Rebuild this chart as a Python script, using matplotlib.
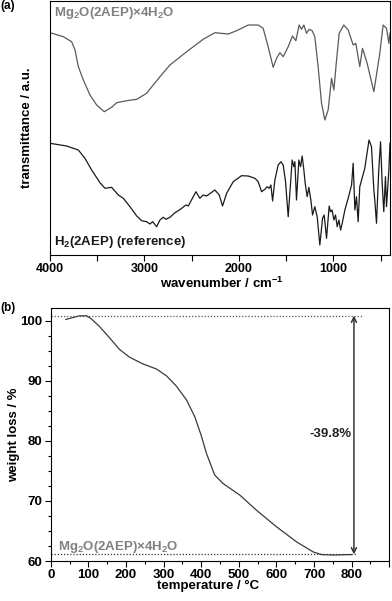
import numpy as np
import matplotlib
matplotlib.use('Agg')
import matplotlib.pyplot as plt
from matplotlib.ticker import MultipleLocator

plt.rcParams['font.family'] = ['Liberation Sans', 'DejaVu Sans']
plt.rcParams['font.weight'] = 'bold'
plt.rcParams['axes.labelweight'] = 'bold'
plt.rcParams['font.size'] = 9
plt.rcParams['mathtext.fontset'] = 'custom'
plt.rcParams['mathtext.rm'] = 'Liberation Sans:bold'
plt.rcParams['mathtext.it'] = 'Liberation Sans:bold'
plt.rcParams['mathtext.bf'] = 'Liberation Sans:bold'

# --- (a) IR spectra (arbitrary units) ---
ir_mg_wn = [4000, 3859, 3771, 3735, 3700, 3647, 3577, 3506, 3425, 3347, 3294, 3188,
            3082, 2977, 2907, 2836, 2730, 2553, 2378, 2254, 2113, 2024, 1901, 1796,
            1743, 1690, 1637, 1601, 1566, 1531, 1478, 1432, 1397, 1362, 1337, 1312,
            1284, 1256, 1224, 1196, 1161, 1125, 1090, 1055, 1019, 994, 966, 938, 889,
            843, 790, 762, 720, 691, 642, 571, 508, 473, 437, 412, 400]
ir_mg_t = [222.3, 218.3, 213.3, 205.0, 188.3, 175.0, 160.0, 150.0, 143.3, 147.7, 152.3,
           154.3, 155.7, 161.7, 170.0, 178.3, 190.0, 203.3, 215.7, 222.3, 221.0, 224.3,
           230.0, 230.0, 226.7, 208.3, 187.7, 196.7, 202.3, 198.3, 208.3, 219.0, 214.3,
           230.0, 225.7, 230.0, 221.7, 225.7, 224.3, 218.3, 188.3, 151.7, 135.0, 145.0,
           176.7, 165.0, 195.0, 221.7, 230.0, 225.0, 210.0, 211.7, 188.3, 206.7, 191.7,
           163.3, 201.7, 230.0, 226.7, 211.7, 222.0]

ir_ref_wn = [4000, 3824, 3700, 3630, 3559, 3471, 3418, 3347, 3277, 3224, 3153, 3082,
             3030, 2977, 2942, 2913, 2871, 2836, 2801, 2772, 2730, 2677, 2642, 2606,
             2561, 2536, 2455, 2413, 2378, 2342, 2254, 2208, 2173, 2130, 2060, 1972,
             1901, 1830, 1796, 1760, 1725, 1700, 1679, 1661, 1643, 1619, 1584, 1555,
             1531, 1506, 1478, 1453, 1436, 1418, 1407, 1390, 1365, 1347, 1330, 1312,
             1298, 1277, 1259, 1238, 1220, 1196, 1171, 1143, 1114, 1097, 1072, 1044,
             1030, 1013, 994, 977, 959, 941, 923, 906, 878, 843, 807, 790, 772, 755,
             737, 720, 667, 622, 596, 571, 561, 543, 519, 500, 483, 466, 448, 437,
             412, 400]
ir_ref_t = [111.7, 109.0, 105.0, 96.7, 85.0, 72.3, 66.7, 67.7, 60.0, 56.7, 48.3, 39.0,
            34.3, 33.3, 31.0, 33.3, 28.3, 35.0, 37.7, 35.7, 37.7, 42.3, 44.3, 46.7,
            50.0, 49.0, 63.3, 56.7, 60.0, 59.0, 65.0, 60.0, 49.0, 61.7, 73.3, 79.3,
            79.0, 76.7, 73.3, 63.3, 65.7, 68.3, 66.7, 70.0, 54.0, 75.0, 90.0, 93.3,
            90.0, 73.3, 38.3, 71.7, 95.0, 88.3, 93.3, 55.0, 95.0, 88.3, 99.0, 85.0,
            71.7, 58.3, 67.7, 55.0, 40.0, 48.3, 38.3, 10.0, 36.7, 40.0, 16.7, 49.0,
            43.3, 45.0, 35.0, 40.0, 28.3, 35.0, 25.0, 31.7, 45.0, 56.7, 70.0, 91.7,
            45.0, 58.3, 33.3, 68.3, 86.7, 115.0, 108.3, 65.0, 55.0, 31.7, 85.0, 113.3,
            71.7, 43.3, 78.3, 48.3, 85.0, 111.7]

# --- (b) TGA ---
tga_temp = [40, 77, 95, 108, 130, 157, 183, 210, 245, 281, 308, 334, 361, 383, 400,
            414, 436, 458, 503, 547, 600, 653, 698, 720, 751, 800]
tga_weight = [100.2, 100.8, 100.8, 100.3, 99.0, 97.1, 95.2, 93.9, 92.8, 91.95, 90.8,
              89.1, 86.8, 84.0, 80.9, 77.9, 74.3, 72.9, 70.95, 68.45, 65.7, 63.2, 61.5,
              61.07, 61.0, 61.07]
plateau_top = 100.83
plateau_bottom = 61.1
arrow_temp = 806
loss_label = '-39.8%'

compound = r'Mg$_{2}$O(2AEP)$\times$4H$_{2}$O'

fig = plt.figure(figsize=(3.92, 6.01), dpi=100)

# ---------- (a) ----------
ax1 = fig.add_axes([50 / 392, 1 - 255 / 601, 340 / 392, 254 / 601])
ax1.plot(ir_mg_wn, ir_mg_t, color='#5a5a5a', lw=0.9)
ax1.plot(ir_ref_wn, ir_ref_t, color='#1a1a1a', lw=0.9)
ax1.set_xlim(4000, 400)
ax1.set_ylim(0, 254)
ax1.xaxis.set_major_locator(MultipleLocator(1000))
ax1.xaxis.set_minor_locator(MultipleLocator(500))
ax1.tick_params(axis='x', which='both', direction='out', length=4, width=0.8,
                labelsize=9, pad=2)
ax1.set_yticks([])
ax1.set_xlabel(r'wavenumber / cm$^{-1}$', fontsize=9.5)
ax1.xaxis.set_label_coords(0.504, -0.082)
ax1.set_ylabel('transmittance / a.u.', fontsize=9.5)
ax1.yaxis.set_label_coords(-0.05, 0.5)
ax1.text(0.012, 0.985, compound, transform=ax1.transAxes, color='#808080',
         fontsize=9.5, ha='left', va='top')
ax1.text(0.012, 0.02, 'H$_{2}$(2AEP) (reference)', transform=ax1.transAxes,
         color='#1a1a1a', fontsize=9.5, ha='left', va='bottom')
fig.text(0.0, 1.0, '(a)', fontsize=8.5, ha='left', va='top')

# ---------- (b) ----------
ax2 = fig.add_axes([50.7 / 392, 1 - 561 / 601, 338.6 / 392, 253 / 601])
ax2.plot(tga_temp, tga_weight, color='#3a3a3a', lw=0.9)
ax2.set_xlim(0, 900)
ax2.set_ylim(60, 102.1)
ax2.xaxis.set_minor_locator(MultipleLocator(50))
ax2.yaxis.set_major_locator(MultipleLocator(10))
ax2.yaxis.set_minor_locator(MultipleLocator(2.5))
ax2.set_xticks([0, 100, 200, 300, 400, 500, 600, 700, 800, 900])
ax2.set_xticklabels(['0', '100', '200', '300', '400', '500', '600', '700', '800', ''])
ax2.tick_params(which='both', direction='out', width=0.8, labelsize=9.5, pad=2)
ax2.tick_params(which='major', length=4)
ax2.tick_params(which='minor', length=2.5)

ax2.plot([0, 830], [plateau_top, plateau_top], linestyle=(0, (1, 1.5)), color='#555555', lw=0.9)
ax2.plot([0, 815], [plateau_bottom, plateau_bottom], linestyle=(0, (1, 1.5)), color='#333333', lw=0.9)
ax2.annotate('', xy=(arrow_temp, plateau_bottom), xytext=(arrow_temp, plateau_top),
             arrowprops=dict(arrowstyle='<->', color='#333333', lw=1.1,
                             shrinkA=0, shrinkB=0, mutation_scale=9))
ax2.text(744, 81.1, loss_label, fontsize=9.5, ha='center', va='center', color='#222222')
ax2.text(19, plateau_bottom - 0.1, compound, fontsize=9.5, color='#808080',
         ha='left', va='bottom')

ax2.set_xlabel('temperature / °C', fontsize=9.5)
ax2.xaxis.set_label_coords(0.465, -0.075)
ax2.set_ylabel('weight loss / %', fontsize=9.5)
ax2.yaxis.set_label_coords(-0.092, 0.5)
fig.text(0.0, 1 - 302 / 601, '(b)', fontsize=8.5, ha='left', va='top')

fig.savefig('out.png', dpi=100)
